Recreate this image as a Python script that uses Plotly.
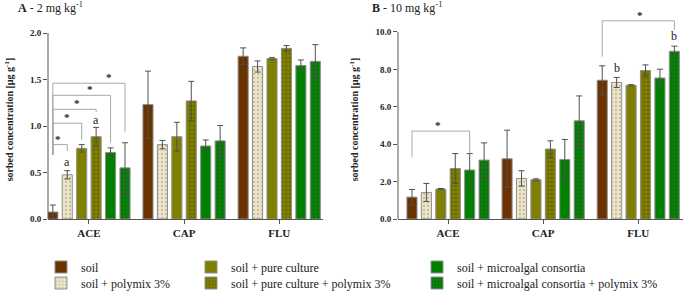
import plotly.graph_objects as go

categories = ["ACE", "CAP", "FLU"]
series_names = ["soil", "soil + polymix 3%", "soil + pure culture",
                "soil + pure culture + polymix 3%", "soil + microalgal consortia",
                "soil + microalgal consortia + polymix 3%"]

# Panel A - 2 mg/kg
a_soil = [0.075, 1.23, 1.75]
a_soil_err = [0.075, 0.36, 0.09]
a_poly = [0.475, 0.80, 1.64]
a_poly_err = [0.045, 0.045, 0.06]
a_pure = [0.76, 0.885, 1.725]
a_pure_err = [0.04, 0.155, 0.01]
a_purepoly = [0.885, 1.27, 1.835]
a_purepoly_err = [0.10, 0.21, 0.03]
a_micro = [0.715, 0.785, 1.65]
a_micro_err = [0.05, 0.065, 0.06]
a_micropoly = [0.55, 0.84, 1.695]
a_micropoly_err = [0.27, 0.165, 0.18]

# Panel B - 10 mg/kg
b_soil = [1.17, 3.22, 7.42]
b_soil_err = [0.41, 1.53, 0.77]
b_poly = [1.42, 2.17, 7.30]
b_poly_err = [0.48, 0.41, 0.27]
b_pure = [1.60, 2.10, 7.15]
b_pure_err = [0.03, 0.05, 0.03]
b_purepoly = [2.70, 3.74, 7.94]
b_purepoly_err = [0.80, 0.44, 0.30]
b_micro = [2.62, 3.18, 7.54]
b_micro_err = [0.88, 1.07, 0.47]
b_micropoly = [3.15, 5.25, 8.97]
b_micropoly_err = [0.92, 1.33, 0.27]

# significance brackets: (category, from bar, to bar, top, left bottom, right bottom, star position along bracket)
a_brackets = [
    (0, 0, 1, 0.80, 0.69, 0.73, 0.35),
    (0, 0, 2, 1.03, 0.69, 0.85, 0.50),
    (0, 0, 3, 1.18, 0.69, 1.15, 0.55),
    (0, 0, 4, 1.33, 0.69, 0.82, 0.65),
    (0, 0, 5, 1.46, 0.69, 0.94, 0.78),
]
b_brackets = [
    (0, 0, 4, 4.70, 3.30, 3.50, 0.45),
    (2, 0, 5, 10.60, 8.68, 10.10, 0.53),
]
# letter labels: (category, bar, y, text)
a_letters = [(0, 1, 0.61, "a"), (0, 3, 1.06, "a")]
b_letters = [(2, 1, 8.09, "b"), (2, 5, 9.79, "b")]

colors = ["#6B3300", "#EDE5C6", "#808000", "#7D7D00", "#008000", "#0B7F0B"]
patterns = [None,
            dict(shape=".", bgcolor="#EDE5C6", fgcolor="#9a9484", size=4, solidity=0.25),
            None,
            dict(shape=".", bgcolor="#7D7D00", fgcolor="#4f4f00", size=4, solidity=0.25),
            None,
            dict(shape=".", bgcolor="#0B7F0B", fgcolor="#045404", size=4, solidity=0.25)]
# legend placement: column (x px) and row (y px) of each series entry
legend_ids = ["legend", "legend2", "legend3", "legend4", "legend5", "legend6"]
legend_col_px = [41, 41, 191, 191, 417, 417]
legend_row_px = [267, 283, 267, 283, 267, 283]

SERIF = "Liberation Serif"
BARGAP = 0.09
nbar = 6
slot = (1 - BARGAP) / nbar

def bar_x(cat, i):
    return cat + (i - (nbar - 1) / 2) * slot

fig = go.Figure()

panels = [
    ("x", "y", [a_soil, a_poly, a_pure, a_purepoly, a_micro, a_micropoly],
     [a_soil_err, a_poly_err, a_pure_err, a_purepoly_err, a_micro_err, a_micropoly_err], True),
    ("x2", "y2", [b_soil, b_poly, b_pure, b_purepoly, b_micro, b_micropoly],
     [b_soil_err, b_poly_err, b_pure_err, b_purepoly_err, b_micro_err, b_micropoly_err], False),
]
for xa, ya, vals, errs, show in panels:
    for i in range(nbar):
        marker = dict(color=colors[i], line=dict(color="#8f8f8f", width=1))
        if patterns[i]:
            marker["pattern"] = patterns[i]
        fig.add_trace(go.Bar(
            x=list(range(len(categories))), y=vals[i], name=series_names[i],
            marker=marker, xaxis=xa, yaxis=ya, showlegend=show, legend=legend_ids[i],
            error_y=dict(type="data", array=errs[i], color="#505050", thickness=1, width=3),
        ))

line_col = "#a8a8a8"
def add_brackets(brackets, xref, yref):
    for cat, i0, i1, top, lb, rb, frac in brackets:
        x0, x1 = bar_x(cat, i0), bar_x(cat, i1)
        fig.add_shape(type="path", xref=xref, yref=yref,
                      path=f"M {x0},{lb} L {x0},{top} L {x1},{top} L {x1},{rb}",
                      line=dict(color=line_col, width=1))
        fig.add_annotation(xref=xref, yref=yref, x=x0 + (x1 - x0) * frac, y=top,
                           text="<b>*</b>", showarrow=False, yanchor="bottom", yshift=-2,
                           font=dict(family=SERIF, size=11, color="#222"))

def add_letters(letters, xref, yref):
    for cat, i, y, t in letters:
        fig.add_annotation(xref=xref, yref=yref, x=bar_x(cat, i), y=y, text=t,
                           showarrow=False, font=dict(family=SERIF, size=12, color="#222"))

add_brackets(a_brackets, "x", "y")
add_brackets(b_brackets, "x2", "y2")
add_letters(a_letters, "x", "y")
add_letters(b_letters, "x2", "y2")

# axis lines (end at top tick)
for xref, yref, topv in [("x domain", "y", 2.0), ("x2 domain", "y2", 10.0)]:
    fig.add_shape(type="line", xref=xref, yref=yref, x0=0, x1=0, y0=0, y1=topv,
                  line=dict(color="#555", width=1))

W, H = 685, 294
T, B = 20, 75
PH = H - T - B
ytitle = "<b>sorbed concentration [µg g<sup>-1</sup>]</b>"
yaxis_common = dict(showgrid=False, zeroline=False, showline=False, ticks="outside",
                    ticklen=4, tickcolor="#555", tickformat=".1f", automargin=False,
                    tickfont=dict(family=SERIF, size=9, color="#222", weight="bold"),
                    title=dict(text=ytitle, font=dict(family=SERIF, size=10, color="#222"), standoff=14),
                    domain=[0, 1])
xaxis_common = dict(showgrid=False, zeroline=False, showline=True, linecolor="#555", linewidth=1,
                    ticks="outside", ticklen=4, tickcolor="#555", automargin=False,
                    tickvals=list(range(len(categories))), ticktext=categories,
                    tickfont=dict(family=SERIF, size=11, color="#222", weight="bold"))

layout_legends = {}
for lid, cx, ry in zip(legend_ids, legend_col_px, legend_row_px):
    layout_legends[lid] = dict(x=cx / W, y=(H - B - ry) / PH, xanchor="left", yanchor="middle",
                               orientation="v", font=dict(family=SERIF, size=12, color="#222"),
                               bgcolor="rgba(0,0,0,0)")

fig.update_layout(
    width=W, height=H,
    margin=dict(l=0, r=0, t=T, b=B, autoexpand=False),
    plot_bgcolor="white", paper_bgcolor="white",
    barmode="group", bargap=BARGAP, bargroupgap=0.3,
    font=dict(family=SERIF, color="#222"),
    xaxis=dict(**xaxis_common, domain=[48 / W, 323 / W], range=[-0.43, 2.46], anchor="y"),
    yaxis=dict(**yaxis_common, range=[0, 2.14], tickvals=[0, 0.5, 1.0, 1.5, 2.0], anchor="x"),
    xaxis2=dict(**xaxis_common, domain=[398 / W, 683 / W], range=[-0.526, 2.47], anchor="y2"),
    yaxis2=dict(**yaxis_common, range=[0, 10.64], tickvals=[0, 2, 4, 6, 8, 10], anchor="x2"),
    **layout_legends,
)

fig.add_annotation(xref="paper", yref="paper", x=16 / W, y=1 + 12 / PH, xanchor="left",
                   yanchor="middle", showarrow=False,
                   text="<b>A</b> - 2 mg kg<sup>-1</sup>", font=dict(family=SERIF, size=12, color="#222"))
fig.add_annotation(xref="paper", yref="paper", x=370 / W, y=1 + 12 / PH, xanchor="left",
                   yanchor="middle", showarrow=False,
                   text="<b>B</b> - 10 mg kg<sup>-1</sup>", font=dict(family=SERIF, size=12, color="#222"))

fig.write_html("out.html", config={"displayModeBar": False},
               post_script="document.body.style.margin='0';document.body.style.overflow='hidden';")
